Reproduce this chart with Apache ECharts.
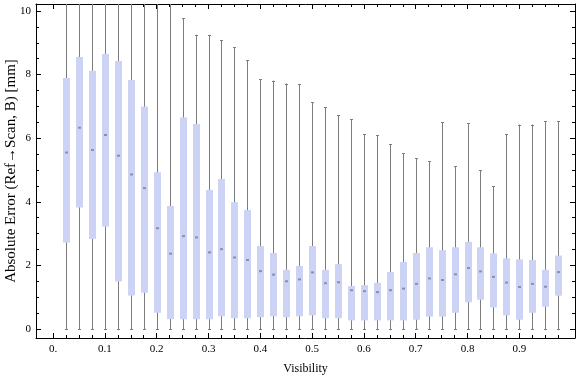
<!DOCTYPE html>
<html>
<head>
<meta charset="utf-8">
<script src="https://cdn.jsdelivr.net/npm/echarts@6/dist/echarts.min.js"></script>
<style>
	html, body { margin: 0; padding: 0; background: #fff; }
	#chart { width: 576px; height: 377px; }
</style>
</head>
<body>
<div id="chart"></div>
<script>
// visibility bins (box centres)
const visibility = [
	0.025, 0.05, 0.075, 0.1, 0.125, 0.15, 0.175, 0.2, 0.225, 0.25,
	0.275, 0.3, 0.325, 0.35, 0.375, 0.4, 0.425, 0.45, 0.475, 0.5,
	0.525, 0.55, 0.575, 0.6, 0.625, 0.65, 0.675, 0.7, 0.725, 0.75,
	0.775, 0.8, 0.825, 0.85, 0.875, 0.9, 0.925, 0.95, 0.975,
]
const whiskerLow = [
	0, 0, 0, 0, 0, 0, 0, 0, 0, 0,
	0, 0, 0, 0, 0, 0, 0, 0, 0, 0,
	0, 0, 0, 0, 0, 0, 0, 0, 0, 0,
	0, 0, 0, 0, 0, 0, 0, 0, 0,
]
const quartile1 = [
	2.72, 3.82, 2.83, 3.22, 1.49, 1.05, 1.14, 0.51, 0.31, 0.31,
	0.31, 0.31, 0.40, 0.34, 0.34, 0.37, 0.40, 0.37, 0.40, 0.43,
	0.34, 0.34, 0.27, 0.27, 0.27, 0.27, 0.27, 0.29, 0.39, 0.39,
	0.51, 0.84, 0.92, 0.68, 0.43, 0.29, 0.51, 0.70, 1.05,
]
const medians = [
	5.55, 6.33, 5.63, 6.10, 5.45, 4.86, 4.43, 3.17, 2.37, 2.92,
	2.88, 2.41, 2.51, 2.25, 2.17, 1.82, 1.71, 1.50, 1.56, 1.78,
	1.44, 1.47, 1.22, 1.19, 1.16, 1.22, 1.27, 1.42, 1.59, 1.54,
	1.72, 1.92, 1.81, 1.64, 1.46, 1.32, 1.42, 1.33, 1.79,
]
const quartile3 = [
	7.89, 8.55, 8.12, 8.65, 8.43, 7.83, 7.00, 4.93, 3.87, 6.65,
	6.45, 4.37, 4.72, 3.99, 3.74, 2.61, 2.39, 1.86, 1.98, 2.61,
	1.86, 2.04, 1.35, 1.38, 1.45, 1.79, 2.11, 2.39, 2.57, 2.48,
	2.57, 2.74, 2.57, 2.38, 2.22, 2.19, 2.17, 1.86, 2.31,
]
const whiskerHigh = [
	11, 11, 11, 11, 11, 11, 11, 11, 11, 9.77,
	9.25, 9.25, 9.09, 8.86, 8.45, 7.85, 7.81, 7.72, 7.69, 7.13,
	6.97, 6.72, 6.59, 6.12, 6.09, 5.81, 5.52, 5.37, 5.27, 6.50,
	5.12, 6.47, 4.99, 4.49, 6.12, 6.43, 6.43, 6.53, 6.53,
]

// axis ticks
const xLabelTicks = [0, 0.1, 0.2, 0.3, 0.4, 0.5, 0.6, 0.7, 0.8, 0.9]
const xMinorTicks = [
	0.025, 0.05, 0.075, 0.125, 0.15, 0.175, 0.225, 0.25, 0.275, 0.325,
	0.35, 0.375, 0.425, 0.45, 0.475, 0.525, 0.55, 0.575, 0.625, 0.65,
	0.675, 0.725, 0.75, 0.775, 0.825, 0.85, 0.875, 0.925, 0.95, 0.975,
]
const yLabelTicks = [0, 2, 4, 6, 8, 10]
const yMinorTicks = [
	0.5, 1, 1.5, 2.5, 3, 3.5, 4.5, 5, 5.5, 6.5, 7, 7.5, 8.5, 9, 9.5,
]

const X_MIN = -0.033
const X_MAX = 1.0075
const Y_MIN = -0.283
const Y_MAX = 10.22

const FONT = '"Liberation Serif", "DejaVu Serif", serif'

const boxData = visibility.map((v, i) => [
	v, whiskerLow[i], quartile1[i], medians[i], quartile3[i], whiskerHigh[i],
])

function renderBox(params, api) {
	const x = api.value(0)
	const hiVal = api.value(5)
	const top = Math.min(hiVal, Y_MAX)
	const pLo = api.coord([x, api.value(1)])
	const pQ1 = api.coord([x, api.value(2)])
	const pMed = api.coord([x, api.value(3)])
	const pQ3 = api.coord([x, api.value(4)])
	const pHi = api.coord([x, top])
	const cx = Math.round(pLo[0]) + 0.5
	const halfW = 3.5
	const lineStyle = { stroke: '#7c7c7c', lineWidth: 1 }
	const children = [
		{
			type: 'line',
			shape: { x1: cx, y1: pLo[1], x2: cx, y2: pHi[1] },
			style: lineStyle,
		},
		{
			type: 'line',
			shape: { x1: cx - 1.5, y1: Math.round(pLo[1]) + 0.5, x2: cx + 1.5, y2: Math.round(pLo[1]) + 0.5 },
			style: lineStyle,
		},
		{
			type: 'rect',
			shape: { x: cx - halfW, y: pQ3[1], width: halfW * 2, height: pQ1[1] - pQ3[1] },
			style: { fill: '#cdd3f5' },
		},
		{
			type: 'rect',
			shape: { x: cx - 1.5, y: pMed[1] - 1, width: 3, height: 2 },
			style: { fill: '#8c8fa8' },
		},
	]
	if (hiVal <= Y_MAX) {
		children.push({
			type: 'line',
			shape: { x1: cx - 1.5, y1: Math.round(pHi[1]) + 0.5, x2: cx + 1.5, y2: Math.round(pHi[1]) + 0.5 },
			style: lineStyle,
		})
	}
	return { type: 'group', children: children }
}

function makeXAxis(position, ticks, len, showLine, showLabel) {
	return {
		type: 'value',
		position: position,
		min: X_MIN,
		max: X_MAX,
		axisLine: { show: showLine, onZero: false, lineStyle: { color: '#000', width: 1 } },
		axisTick: {
			show: true,
			inside: true,
			length: len,
			customValues: ticks,
			lineStyle: { color: '#000', width: 1 },
		},
		axisLabel: {
			show: showLabel,
			customValues: xLabelTicks,
			margin: 6,
			color: '#000',
			fontFamily: FONT,
			fontSize: 11,
			formatter: (v) => (v === 0 ? '0.' : v.toFixed(1)),
		},
		splitLine: { show: false },
	}
}

function makeYAxis(position, ticks, len, showLine, showLabel) {
	return {
		type: 'value',
		position: position,
		min: Y_MIN,
		max: Y_MAX,
		axisLine: { show: showLine, onZero: false, lineStyle: { color: '#000', width: 1 } },
		axisTick: {
			show: true,
			inside: true,
			length: len,
			customValues: ticks,
			lineStyle: { color: '#000', width: 1 },
		},
		axisLabel: {
			show: showLabel,
			customValues: yLabelTicks,
			margin: 5,
			color: '#000',
			fontFamily: FONT,
			fontSize: 11,
		},
		splitLine: { show: false },
	}
}

const chart = echarts.init(document.getElementById('chart'))

const xAxes = [
	makeXAxis('bottom', xLabelTicks, 5, true, true),
	makeXAxis('bottom', xMinorTicks, 3, false, false),
	makeXAxis('top', xLabelTicks, 5, true, false),
	makeXAxis('top', xMinorTicks, 3, false, false),
]
xAxes[0].name = 'Visibility'
xAxes[0].nameLocation = 'middle'
xAxes[0].nameGap = 25
xAxes[0].nameMoveOverlap = false
xAxes[0].nameTextStyle = { color: '#000', fontFamily: FONT, fontSize: 12 }

const yAxes = [
	makeYAxis('left', yLabelTicks, 5, true, true),
	makeYAxis('left', yMinorTicks, 3, false, false),
	makeYAxis('right', yLabelTicks, 5, true, false),
	makeYAxis('right', yMinorTicks, 3, false, false),
]
yAxes[0].name = 'Absolute Error (Ref\u2192Scan, B) [mm]'
yAxes[0].nameLocation = 'middle'
yAxes[0].nameGap = 17
yAxes[0].nameMoveOverlap = false
yAxes[0].nameTextStyle = { color: '#000', fontFamily: FONT, fontSize: 15 }

chart.setOption({
	animation: false,
	grid: { left: 36, right: 1, top: 4, bottom: 39, containLabel: false, outerBoundsMode: 'none' },
	xAxis: xAxes,
	yAxis: yAxes,
	series: [
		{
			type: 'custom',
			xAxisIndex: 0,
			yAxisIndex: 0,
			renderItem: renderBox,
			encode: { x: 0, y: [1, 2, 3, 4, 5] },
			data: boxData,
			z: 1,
		},
	],
})
</script>
</body>
</html>
